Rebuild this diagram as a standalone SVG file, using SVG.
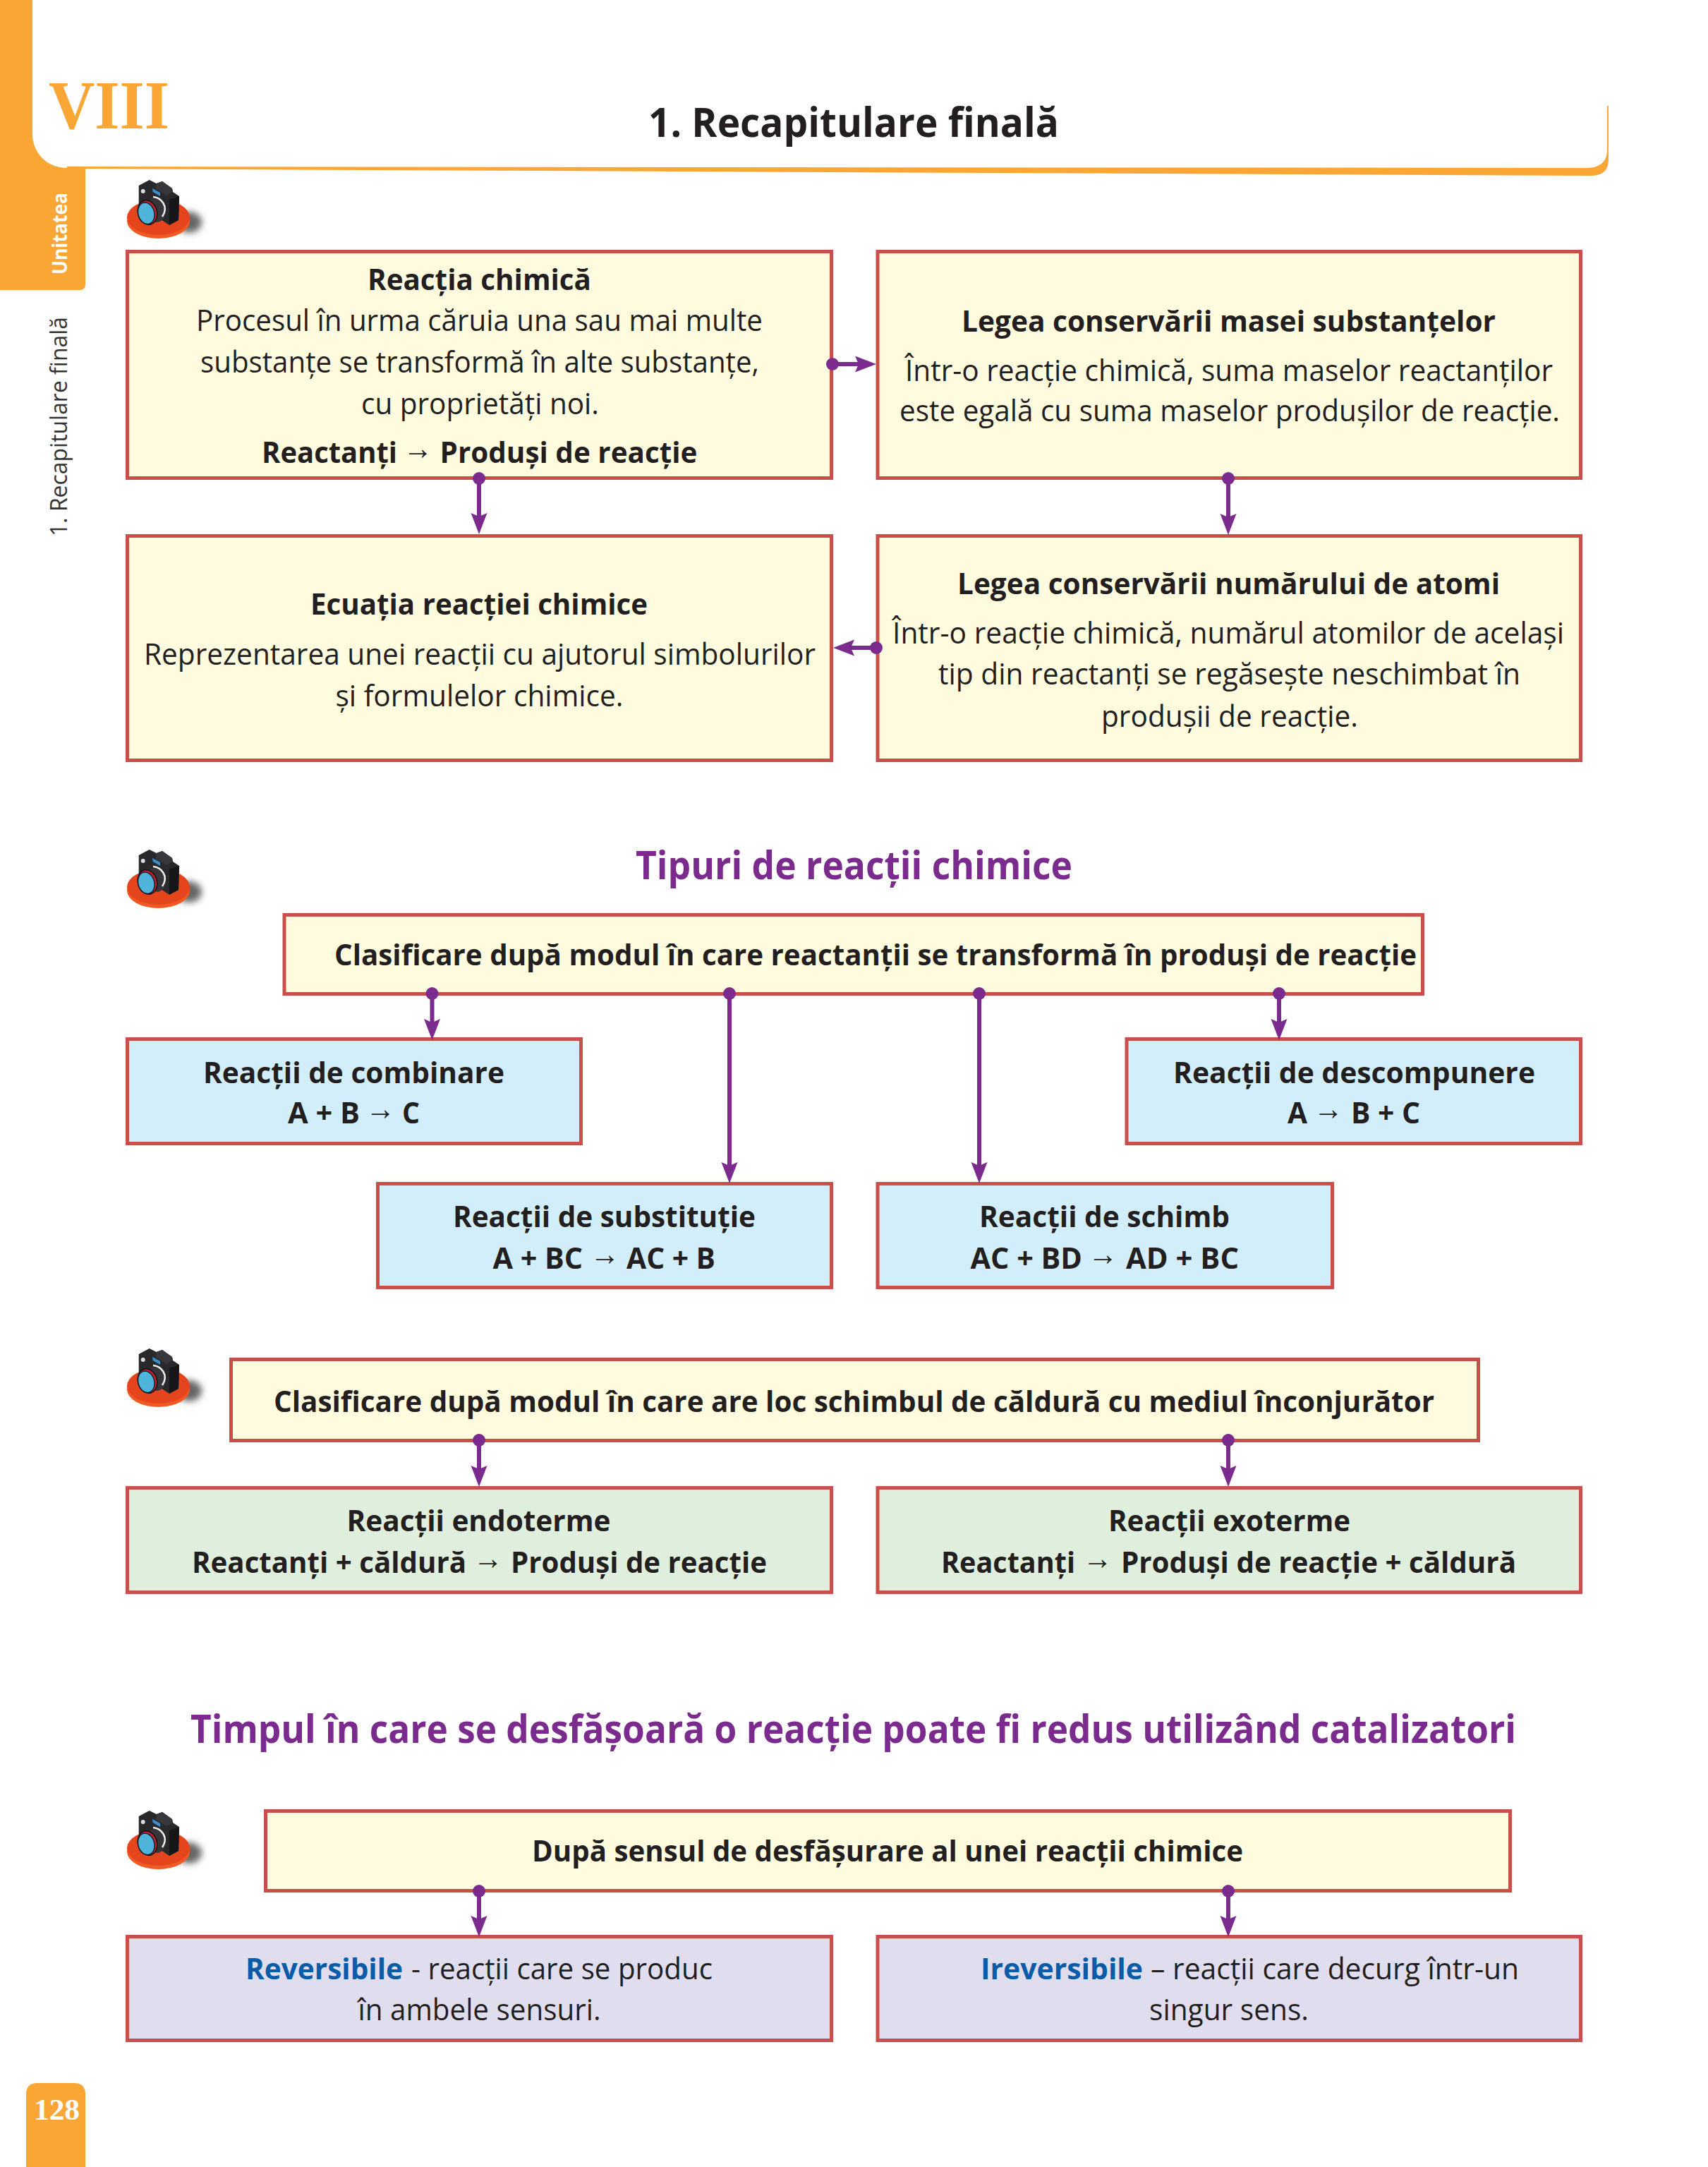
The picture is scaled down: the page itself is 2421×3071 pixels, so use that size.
<svg xmlns="http://www.w3.org/2000/svg" xmlns:xlink="http://www.w3.org/1999/xlink" width="2421" height="3071" viewBox="0 0 2421 3071">
<style>
text{font-family:"Open Sans","Liberation Sans",sans-serif;fill:#231f20;font-size:42px}
.b{font-weight:700}
.a{font-family:"Liberation Sans",sans-serif;font-weight:400;font-size:46px}
.t{font-weight:700;font-size:56px;fill:#7b2a8e}
.s{font-family:"Liberation Serif",serif;font-weight:700;fill:#faa635}
.box{stroke:#c94f4b;stroke-width:5}
.y{fill:#fffbdf}.c{fill:#d2eefb}.g{fill:#dfeedd}.l{fill:#dfddee}
.con{stroke:#7b2a8e;stroke-width:6;fill:none;marker-start:url(#dot);marker-end:url(#head)}
.o{fill:#faa635}
</style>
<defs>
<marker id="head" markerUnits="userSpaceOnUse" markerWidth="40" markerHeight="30" refX="10" refY="11.5" orient="auto" viewBox="0 0 40 30"><path d="M30,11.5L0,0L5,11.5L0,23Z" fill="#7b2a8e"/></marker>
<marker id="dot" markerUnits="userSpaceOnUse" markerWidth="20" markerHeight="20" refX="10" refY="10" orient="auto" viewBox="0 0 20 20"><circle cx="10" cy="10" r="9" fill="#7b2a8e"/></marker>
<filter id="blur" x="-50%" y="-50%" width="200%" height="200%"><feGaussianBlur stdDeviation="5"/></filter>
<g id="camera">
<ellipse cx="268" cy="315" rx="18" ry="15" fill="#666" filter="url(#blur)"/>
<ellipse cx="224.500" cy="313" rx="44.500" ry="25" fill="#f15a24"/>
<ellipse cx="224.500" cy="308" rx="44.500" ry="25" fill="#e5451c"/>
<path d="M196.700,263L211.700,255L221.700,260L230,257L244,267L245,272L254,278L253,312L240,319L196.700,290Z" fill="#29292c"/>
<path d="M240,283L254,278L253,312L240,319Z" fill="#161618"/>
<path d="M221.700,260L230,257L244,267L245,272L236,277L221,268Z" fill="#38383c"/>
<path d="M216,267L227,273L227,278L216.700,272Z" fill="#3b8fd0"/>
<circle cx="202.700" cy="271" r="3" fill="#ddd"/>
<ellipse cx="221" cy="298" rx="14" ry="17" transform="rotate(-15 221 298)" fill="#36363a"/>
<path d="M217,279C228,280 240,292 230,307" stroke="#eee" stroke-width="2.500" fill="none"/>
<ellipse cx="209" cy="301" rx="13.500" ry="17.500" transform="rotate(-15 209 301)" fill="#c8202f" stroke="#111" stroke-width="1.500"/>
<ellipse cx="207.300" cy="302.300" rx="11.500" ry="15.500" transform="rotate(-15 207.300 302.300)" fill="#4fb4da" stroke="#123" stroke-width="1.500"/>
</g>
</defs>
<rect width="2421" height="3071" fill="#fff"/>
<g id="page-frame">
<path class="o" d="M0,0H46V190C46,216 66,238 95,238H121V403Q121,411 113,411H0Z"/>
<path class="o" d="M95,236L1000,237L2252,238Q2278,236 2278,212V150H2280V226Q2280,249 2255,249L1400,245L95,239Z"/>
<text class="s" x="69" y="182" style="font-size:97px" textLength="171" lengthAdjust="spacingAndGlyphs">VIII</text>
<text class="b" transform="translate(95 389) rotate(-90)" style="font-size:29px;fill:#fff" textLength="116" lengthAdjust="spacingAndGlyphs">Unitatea</text>
<text transform="translate(95 760) rotate(-90)" style="font-size:33px;fill:#333" textLength="311" lengthAdjust="spacingAndGlyphs">1. Recapitulare finală</text>
<path class="o" d="M37,3071V2968Q37,2952 53,2952H105Q121,2952 121,2968V3071Z"/>
<text class="s" x="48" y="3004" style="font-size:42px;fill:#fff" textLength="65" lengthAdjust="spacingAndGlyphs">128</text>
</g>
<g id="title"><text class="b" x="919" y="194" style="font-size:57px" textLength="582" lengthAdjust="spacingAndGlyphs">1. Recapitulare finală</text></g>
<g id="cameras">
<use xlink:href="#camera" href="#camera"/>
<use xlink:href="#camera" href="#camera" y="949"/>
<use xlink:href="#camera" href="#camera" y="1656"/>
<use xlink:href="#camera" href="#camera" y="2311"/>
</g>
<g id="node-reactia">
<rect class="box y" x="180.500" y="356.500" width="998" height="321"/>
<text class="b" x="521" y="411" textLength="317" lengthAdjust="spacingAndGlyphs">Reacția chimică</text>
<text x="278" y="469" textLength="803" lengthAdjust="spacingAndGlyphs">Procesul în urma căruia una sau mai multe</text>
<text x="284" y="528" textLength="792" lengthAdjust="spacingAndGlyphs">substanțe se transformă în alte substanțe,</text>
<text x="512" y="587" textLength="337" lengthAdjust="spacingAndGlyphs">cu proprietăți noi.</text>
<text class="b" x="371" y="656" textLength="192" lengthAdjust="spacingAndGlyphs">Reactanți</text>
<text class="a" x="571.500" y="651" textLength="42" lengthAdjust="spacingAndGlyphs">→</text>
<text class="b" x="623.500" y="656" textLength="365" lengthAdjust="spacingAndGlyphs">Produși de reacție</text>
</g>
<g id="node-masa">
<rect class="box y" x="1244" y="356.500" width="996.500" height="321"/>
<text class="b" x="1363" y="470" textLength="757" lengthAdjust="spacingAndGlyphs">Legea conservării masei substanțelor</text>
<text x="1283" y="540" textLength="918" lengthAdjust="spacingAndGlyphs">Într-o reacție chimică, suma maselor reactanților</text>
<text x="1275" y="597" textLength="936" lengthAdjust="spacingAndGlyphs">este egală cu suma maselor produșilor de reacție.</text>
</g>
<g id="node-ecuatia">
<rect class="box y" x="180.500" y="759.500" width="998" height="318"/>
<text class="b" x="440" y="871" textLength="478" lengthAdjust="spacingAndGlyphs">Ecuația reacției chimice</text>
<text x="204" y="942" textLength="952" lengthAdjust="spacingAndGlyphs">Reprezentarea unei reacții cu ajutorul simbolurilor</text>
<text x="475.500" y="1001" textLength="408" lengthAdjust="spacingAndGlyphs">și formulelor chimice.</text>
</g>
<g id="node-atomi">
<rect class="box y" x="1244" y="759.500" width="996.500" height="318"/>
<text class="b" x="1357" y="842" textLength="769" lengthAdjust="spacingAndGlyphs">Legea conservării numărului de atomi</text>
<text x="1265" y="912" textLength="952" lengthAdjust="spacingAndGlyphs">Într-o reacție chimică, numărul atomilor de același</text>
<text x="1330" y="970" textLength="825" lengthAdjust="spacingAndGlyphs">tip din reactanți se regăsește neschimbat în</text>
<text x="1561" y="1030" textLength="364" lengthAdjust="spacingAndGlyphs">produșii de reacție.</text>
</g>
<g id="heading-tipuri"><text class="t" x="901" y="1246" textLength="619" lengthAdjust="spacingAndGlyphs">Tipuri de reacții chimice</text></g>
<g id="node-clasificare1">
<rect class="box y" x="403" y="1296.500" width="1613.500" height="112"/>
<text class="b" x="474" y="1368" textLength="1534" lengthAdjust="spacingAndGlyphs">Clasificare după modul în care reactanții se transformă în produși de reacție</text>
</g>
<g id="node-combinare">
<rect class="box c" x="180.500" y="1472.500" width="643" height="148"/>
<text class="b" x="288" y="1535" textLength="427" lengthAdjust="spacingAndGlyphs">Reacții de combinare</text>
<text class="b" x="408" y="1592" textLength="102" lengthAdjust="spacingAndGlyphs">A + B</text>
<text class="a" x="518.500" y="1587" textLength="42" lengthAdjust="spacingAndGlyphs">→</text>
<text class="b" x="570" y="1592" textLength="25" lengthAdjust="spacingAndGlyphs">C</text>
</g>
<g id="node-descompunere">
<rect class="box c" x="1597" y="1472.500" width="643.500" height="148"/>
<text class="b" x="1663" y="1535" textLength="513" lengthAdjust="spacingAndGlyphs">Reacții de descompunere</text>
<text class="b" x="1825" y="1592" textLength="28" lengthAdjust="spacingAndGlyphs">A</text>
<text class="a" x="1862" y="1587" textLength="42" lengthAdjust="spacingAndGlyphs">→</text>
<text class="b" x="1915" y="1592" textLength="98" lengthAdjust="spacingAndGlyphs">B + C</text>
</g>
<g id="node-substitutie">
<rect class="box c" x="535.500" y="1677.500" width="643" height="147"/>
<text class="b" x="642" y="1739" textLength="429" lengthAdjust="spacingAndGlyphs">Reacții de substituție</text>
<text class="b" x="698.500" y="1798" textLength="127.500" lengthAdjust="spacingAndGlyphs">A + BC</text>
<text class="a" x="836.500" y="1793" textLength="42" lengthAdjust="spacingAndGlyphs">→</text>
<text class="b" x="888" y="1798" textLength="126" lengthAdjust="spacingAndGlyphs">AC + B</text>
</g>
<g id="node-schimb">
<rect class="box c" x="1244" y="1677.500" width="644.500" height="147"/>
<text class="b" x="1388" y="1739" textLength="355" lengthAdjust="spacingAndGlyphs">Reacții de schimb</text>
<text class="b" x="1375.500" y="1798" textLength="158.500" lengthAdjust="spacingAndGlyphs">AC + BD</text>
<text class="a" x="1542.500" y="1793" textLength="42" lengthAdjust="spacingAndGlyphs">→</text>
<text class="b" x="1596" y="1798" textLength="160" lengthAdjust="spacingAndGlyphs">AD + BC</text>
</g>
<g id="node-clasificare2">
<rect class="box y" x="327.500" y="1926.500" width="1768" height="115"/>
<text class="b" x="388" y="2001" textLength="1645" lengthAdjust="spacingAndGlyphs">Clasificare după modul în care are loc schimbul de căldură cu mediul înconjurător</text>
</g>
<g id="node-endoterme">
<rect class="box g" x="180.500" y="2108.500" width="998" height="148"/>
<text class="b" x="491.500" y="2170" textLength="374" lengthAdjust="spacingAndGlyphs">Reacții endoterme</text>
<text class="b" x="272" y="2229" textLength="389" lengthAdjust="spacingAndGlyphs">Reactanți + căldură</text>
<text class="a" x="671" y="2224" textLength="42" lengthAdjust="spacingAndGlyphs">→</text>
<text class="b" x="724" y="2229" textLength="363" lengthAdjust="spacingAndGlyphs">Produși de reacție</text>
</g>
<g id="node-exoterme">
<rect class="box g" x="1244" y="2108.500" width="996.500" height="148"/>
<text class="b" x="1571" y="2170" textLength="343" lengthAdjust="spacingAndGlyphs">Reacții exoterme</text>
<text class="b" x="1334" y="2229" textLength="190" lengthAdjust="spacingAndGlyphs">Reactanți</text>
<text class="a" x="1535" y="2224" textLength="42" lengthAdjust="spacingAndGlyphs">→</text>
<text class="b" x="1589" y="2229" textLength="560" lengthAdjust="spacingAndGlyphs">Produși de reacție + căldură</text>
</g>
<g id="heading-timpul"><text class="t" x="270" y="2470" textLength="1879" lengthAdjust="spacingAndGlyphs">Timpul în care se desfășoară o reacție poate fi redus utilizând catalizatori</text></g>
<g id="node-sens">
<rect class="box y" x="376.500" y="2566.500" width="1764" height="113"/>
<text class="b" x="754" y="2638" textLength="1008" lengthAdjust="spacingAndGlyphs">După sensul de desfășurare al unei reacții chimice</text>
</g>
<g id="node-reversibile">
<rect class="box l" x="180.500" y="2744.500" width="998" height="147"/>
<text class="b" x="348" y="2805" style="fill:#0a5ca8" textLength="223" lengthAdjust="spacingAndGlyphs">Reversibile</text>
<text x="583" y="2805" textLength="427" lengthAdjust="spacingAndGlyphs">- reacții care se produc</text>
<text x="507.500" y="2863" textLength="344" lengthAdjust="spacingAndGlyphs">în ambele sensuri.</text>
</g>
<g id="node-ireversibile">
<rect class="box l" x="1244" y="2744.500" width="996.500" height="147"/>
<text class="b" x="1390" y="2805" style="fill:#0a5ca8" textLength="230" lengthAdjust="spacingAndGlyphs">Ireversibile</text>
<text x="1631" y="2805" textLength="522" lengthAdjust="spacingAndGlyphs">– reacții care decurg într-un</text>
<text x="1629" y="2863" textLength="226" lengthAdjust="spacingAndGlyphs">singur sens.</text>
</g>
<g id="connectors">
<path class="con" d="M1180,516H1222"/>
<path class="con" d="M679,678V737"/>
<path class="con" d="M1741,678V738"/>
<path class="con" d="M1242,918H1201"/>
<path class="con" d="M612.500,1408V1454"/>
<path class="con" d="M1034,1408V1657"/>
<path class="con" d="M1388,1408V1657"/>
<path class="con" d="M1813,1408V1454"/>
<path class="con" d="M679,2041V2087"/>
<path class="con" d="M1741,2041V2087"/>
<path class="con" d="M679,2680V2725"/>
<path class="con" d="M1741,2680V2725"/>
</g>
</svg>
